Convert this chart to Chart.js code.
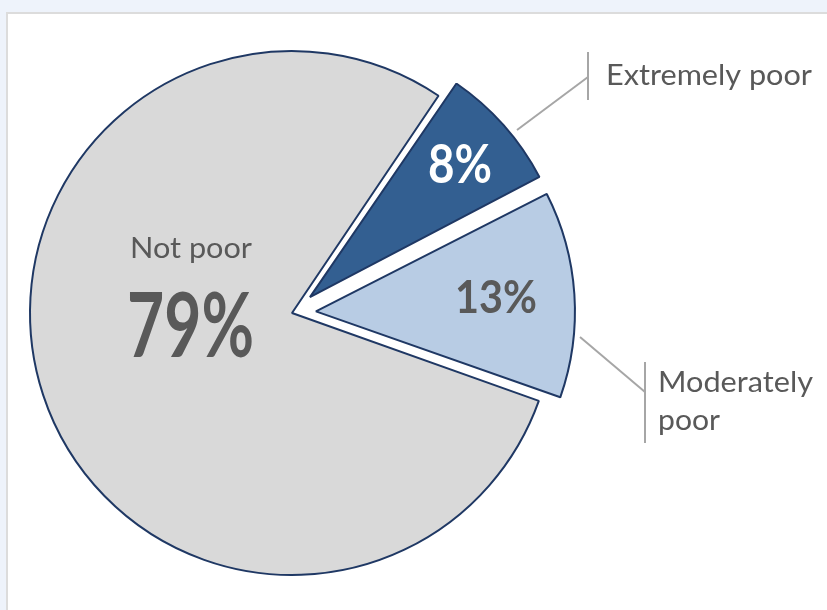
<!DOCTYPE html>
<html>
<head>
<meta charset="utf-8">
<script src="https://cdn.jsdelivr.net/npm/chart.js@4.4.0/dist/chart.umd.min.js"></script>
<style>
  html, body { margin: 0; padding: 0; background: #eef3fb; width: 827px; height: 610px; overflow: hidden; }
  #panel { position: absolute; left: 6px; top: 12px; right: 0; bottom: 0; background: #fff;
           border-left: 2px solid #dcdcdc; border-top: 2px solid #dcdcdc; }
  #wrap { position: absolute; left: 0; top: 0; width: 827px; height: 610px; }
</style>
</head>
<body>
<div id="panel"></div>
<div id="wrap"><canvas id="pie"></canvas></div>
<script>
// data
const categories = ['Extremely poor', 'Moderately poor', 'Not poor'];
const shares = [8, 13, 79];
const sliceColors = ['#335f91', '#b8cce4', '#d9d9d9'];
// chart.js draws offset / 4 px of explosion
const sliceOffsets = [96, 96, 0];

const FONT = 'Lato, "Open Sans", sans-serif';
const GREY = '#595959';

// text: [string, x, baseline, size, weight, color, width]
const labelTexts = [
    ['Not poor', 130, 258, 29, 'normal', GREY, 122],
    ['79%', 127, 357, 90, 'bold', GREY, 127],
    ['8%', 428, 183, 53, 'bold', '#ffffff', 64],
    ['13%', 455, 313, 46, 'bold', GREY, 82],
    ['Extremely poor', 606, 85, 28, 'normal', GREY, 206],
    ['Moderately', 658, 392, 28, 'normal', GREY, 155],
    ['poor', 658, 430, 28, 'normal', GREY, 62]
];
// leader lines
const leaders = [
    [[517, 130], [588, 77]],
    [[588, 52], [588, 100]],
    [[580, 337], [645, 392]],
    [[645, 362], [645, 443]]
];

// chart.js grows exploded arcs a bit; pull them back a little under the pie's radius
const keepRadius = {
    id: 'keepRadius',
    afterDatasetsUpdate(chart) {
        chart.getDatasetMeta(0).data.forEach(arc => {
            const off = (arc.options.offset || 0) / 4;
            if (!off) return;
            const circ = arc.endAngle - arc.startAngle;
            arc.outerRadius -= off * (1 - Math.sin(Math.min(Math.PI, circ))) + 3;
        });
    }
};

const labelPlugin = {
    id: 'labels',
    afterDatasetsDraw(chart) {
        const ctx = chart.ctx;
        ctx.save();
        ctx.strokeStyle = '#a6a6a6';
        ctx.lineWidth = 2;
        leaders.forEach(l => {
            ctx.beginPath();
            ctx.moveTo(l[0][0], l[0][1]);
            ctx.lineTo(l[1][0], l[1][1]);
            ctx.stroke();
        });
        labelTexts.forEach(t => {
            ctx.font = `${t[4]} ${t[3]}px ${FONT}`;
            ctx.fillStyle = t[5];
            ctx.textBaseline = 'alphabetic';
            ctx.textAlign = 'left';
            const w = ctx.measureText(t[0]).width;
            ctx.save();
            ctx.translate(t[1], t[2]);
            ctx.scale(t[6] / w, 1);
            ctx.fillText(t[0], 0, 0);
            ctx.restore();
        });
        ctx.restore();
    }
};

new Chart(document.getElementById('pie'), {
    type: 'pie',
    data: {
        labels: categories,
        datasets: [{
            data: shares,
            backgroundColor: sliceColors,
            borderColor: '#1f3864',
            borderWidth: 2,
            offset: sliceOffsets
        }]
    },
    options: {
        responsive: true,
        maintainAspectRatio: false,
        animation: false,
        events: [],
        rotation: 34,
        radius: 262,
        layout: { padding: { left: 10, right: 253, top: 20, bottom: 4 } },
        plugins: { legend: { display: false }, tooltip: { enabled: false } }
    },
    plugins: [keepRadius, labelPlugin]
});
</script>
</body>
</html>
